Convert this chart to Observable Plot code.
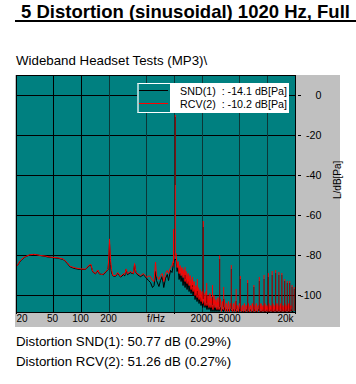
<!DOCTYPE html>
<html><head><meta charset="utf-8">
<script src="https://cdn.jsdelivr.net/npm/d3@7"></script>
<script src="https://cdn.jsdelivr.net/npm/@observablehq/plot@0.6"></script>
<style>
body{margin:0;background:#fff;font-family:"Liberation Sans",Arial,sans-serif;color:#000;}
#page{position:relative;width:356px;height:384px;overflow:hidden;}
#title{position:absolute;left:15px;top:1px;width:341px;height:19px;border-bottom:2px solid #000;font-weight:bold;font-size:18.5px;line-height:21px;white-space:nowrap;overflow:hidden;padding-left:6px;box-sizing:content-box;}
#subtitle{position:absolute;left:16px;top:53.4px;font-size:13.3px;line-height:16px;white-space:nowrap;}
#panel{position:absolute;left:15px;top:75px;width:325px;height:252px;background:#c0c0c0;}
#chart{position:absolute;left:0;top:74px;}
.foot{position:absolute;left:16px;font-size:13.3px;line-height:16px;white-space:nowrap;}
#legend{position:absolute;left:137px;top:83px;width:152px;height:30px;background:#fff;}
#sw{position:absolute;left:0;top:0;width:31px;height:28px;background:#008080;border:1px solid #fff;border-left:2px solid #9fd0d0;}
.swl{position:absolute;left:2px;width:29px;height:1px;}
.lt{position:absolute;right:2px;font-size:10.7px;line-height:13px;white-space:pre;}
</style></head>
<body><div id="page">
<div id="title"></div>
<div id="subtitle"></div>
<div id="panel"></div>
<div id="chart"></div>
<div id="legend"><div id="sw"></div></div>
<div class="foot" id="f1" style="top:334.4px"></div>
<div class="foot" id="f2" style="top:354.4px"></div>
</div>
<script>
const titleText = "5 Distortion (sinusoidal) 1020 Hz, Full";
const subtitleText = "Wideband Headset Tests (MP3)\\";
const footerLines = ["Distortion SND(1): 50.77 dB (0.29%)", "Distortion RCV(2): 51.26 dB (0.27%)"];
const seriesNames = ["SND(1)", "RCV(2)"];
const seriesLevels = ["-14.1 dB[Pa]", "-10.2 dB[Pa]"];
const seriesColors = ["#000000", "#ff0000"];

// Broadband spectrum (Hz, dB[Pa])
const freqs = [20,21,22,23.5,25,27.5,30.5,33,36,41,46,52,56,63,66,71,76,86,97,110,115,120,126,132,141,150,156,164,172,186,193,197,200,205,210,218,232,245,263,283,292,302,312,335,362,372,385,400,431,464,505,525,552,580,603,625,640,680,707,737,766,800,836,862,906,940,996,1040,
1066,1093,1120,1148,1177,1206,1236,1267,1299,1331,1365,1399,1434,1470,1506,1544,1583,1622,1663,1705,1747,1791,1836,1882,1929,1977,2010,2075,2127,2180,2235,2291,2348,2407,2467,2529,2592,2657,2723,2792,2862,2933,3007,3120,3198,3278,3360,3444,3530,3619,3709,3802,3897,3995,4190,4295,4402,4513,4625,4741,4860,4981,5233,5364,5498,5636,5777,5921,6070,6222,6377,6537,6700,6868,7040,7216,7397,7582,7771,7966,8300,8500,8720,8940,9160,9390,9620,9860,10110,10360,10620,10890,11160,11440,11730,12020,12320,12630,12950,13270,13600,13940,14290,14650,15020,15390,15780,16170,16580,16990,17420,17850,18300,18760,19230,19710,20000];
const sndLevel = [-85.5,-84.2,-82.8,-81.5,-80.6,-79.8,-79.5,-79.7,-80.0,-80.5,-80.9,-81.2,-81.4,-81.9,-82.6,-84.2,-85.8,-86.6,-87.0,-87.0,-86.2,-85.2,-84.7,-88.2,-89.2,-87.6,-89.2,-89.4,-89.6,-87.9,-86.9,-82.0,-74.0,-84.5,-88.5,-90.2,-90.4,-88.9,-90.8,-89.6,-90.2,-87.0,-89.6,-88.6,-89.2,-84.5,-88.6,-89.6,-90.6,-89.6,-91.6,-92.5,-93.5,-96.0,-95.0,-88.0,-92.5,-95.5,-92.5,-90.5,-96.0,-91.5,-89.5,-92.5,-87.5,-88.5,-82.0,-82.0,
-88,-86,-92,-89,-93,-90,-95,-91,-96,-92,-97,-93,-98,-95,-99,-96,-100,-97,-102,-99,-103,-100,-104,-101,-105,-102,-106,-103,-106,-104,-107,-104,-107,-105,-108,-105,-108,-105,-108,-106,-108,-106,-108,-106,-108,-107,-108,-106,-108,-107,-108,-107,-108,-107,-108,-107,-108,-107,-108,-108,-108,-107,-108,-108,-108,-108,-108,-107,-108,-108,-108,-107,-108,-108,-108,-107,-108,-108,-108,-107,-108,-108,-108,-107,-108,-108,-108,-107,-108,-108,-108,-107,-108,-108,-108,-107,-108,-108,-108,-107,-108,-108,-108,-107,-108,-108,-108,-107,-108,-108,-108,-107,-108,-108];
const rcvLevel = [-85.5,-84.0,-82.5,-81.3,-80.5,-79.7,-79.4,-79.6,-80.0,-80.3,-80.8,-81.0,-81.2,-81.7,-82.4,-83.8,-85.5,-86.2,-86.7,-86.8,-86.0,-84.9,-84.4,-88.0,-89.0,-87.3,-89.0,-89.5,-89.2,-87.7,-86.7,-80.0,-71.7,-82.0,-87.0,-90.0,-90.0,-88.5,-90.5,-89.0,-89.6,-86.7,-89.0,-88.0,-89.0,-84.0,-88.5,-89.0,-90.0,-89.0,-91.0,-90.2,-90.5,-92.5,-93.0,-83.3,-90.0,-92.0,-90.0,-89.0,-93.0,-89.0,-87.5,-89.0,-86.0,-85.0,-81.0,-79.0,
-86,-83,-89,-85,-90,-86,-91,-87,-93,-88,-94,-89,-95,-90,-97,-92,-98,-93,-100,-95,-101,-96,-102,-97,-103,-98,-104,-99,-105,-98,-105,-100,-106,-99,-106,-101,-107,-100,-106,-102,-107,-101,-107,-102,-108,-103,-107,-102,-108,-104,-108,-103,-108,-104,-108,-104,-108,-103,-108,-105,-108,-104,-108,-105,-108,-104,-108,-105,-108,-104,-108,-105,-108,-104,-108,-105,-108,-104,-108,-105,-108,-104,-108,-105,-108,-104,-108,-105,-108,-104,-108,-105,-108,-104,-108,-105,-108,-104,-108,-105,-108,-104,-108,-105,-108,-104,-108,-105,-108,-104,-108,-105,-106];

// Tonal lines: fundamental, harmonics and other discrete components
const spikeFreq = [975,1020,1300,1560,1760,2040,2220,2560,3060,3380,4080,4600,5100,6120,7140,8160,9180,10200,11220,12240,13260,14280,15300,16320,17340,18360,19380];
const spikeBase = [-86,-80,-92,-96,-100,-102,-104,-105,-106,-106,-107,-107,-108,-108,-108,-108,-108,-108,-108,-108,-108,-108,-108,-108,-108,-108,-108];
const rcvPeak = [-67,-10,-86,-91,-92,-63,-94,-95,-80.3,-96,-85,-97,-90.5,-92.5,-95,-91,-90,-89,-88,-87.5,-88.5,-89,-92,-93,-93,-95,-96];
const sndBase = [-86,-45,-92,-96,-100,-102,-104,-105,-106,-106,-107,-107,-108,-108,-108,-108,-108,-108,-108,-108,-108,-108,-108,-108,-108,-108,-108];
const sndPeak = [-84,-11,-90,-95,-98,-66,-100,-101,-82,-102,-87,-103,-92,-94,-96,-93,-92,-91,-90,-89,-90,-90,-93,-94,-94,-96,-97];

const yTicks = [0, -20, -40, -60, -80, -100];
const yLabel = "L/dB[Pa]";
const xGridMajor = [50, 100];
const xGridMinor = [200, 500, 1000, 2000, 5000, 10000];
const xTickMarks = [20, 1000, 10000, 20000];
const xLabelText = {20: "20", 50: "50", 100: "100", 200: "200", 2000: "2000", 5000: "5000", 20000: "20k"};
const xLabelsStart = [20];
const xLabelsMid = [50, 100, 200, 2000];
const xLabelsEnd = [5000];
const xLabelsLast = [20000];
const xLabel = "f/Hz";

document.getElementById("title").textContent = titleText;
document.getElementById("subtitle").textContent = subtitleText;
document.getElementById("f1").textContent = footerLines[0];
document.getElementById("f2").textContent = footerLines[1];

const legend = document.getElementById("legend");
seriesNames.forEach((n, i) => {
  const l = document.createElement("div");
  l.className = "swl";
  l.style.top = (i === 0 ? 7 : 20) + "px";
  l.style.background = seriesColors[i];
  legend.appendChild(l);
  const t = document.createElement("div");
  t.className = "lt";
  t.style.top = (i === 0 ? 1.6 : 14.6) + "px";
  t.textContent = n + "  : " + seriesLevels[i];
  legend.appendChild(t);
});

const table = freqs.map((f, i) => ({f, snd: sndLevel[i], rcv: rcvLevel[i]}));
const spikes = spikeFreq.map((f, i) => ({f, base: spikeBase[i], rcv: rcvPeak[i], sndBase: sndBase[i], snd: sndPeak[i]}));
const fmt = d => xLabelText[d];
const lab = {frameAnchor: "bottom", lineAnchor: "top", dy: 2, fontSize: 10};

const chart = Plot.plot({
  width: 356, height: 253,
  marginTop: 1, marginBottom: 15, marginLeft: 16, marginRight: 61,
  style: {background: "transparent", fontFamily: "Liberation Sans, Arial, sans-serif", fontSize: "10.7px", color: "black", overflow: "visible"},
  x: {type: "log", domain: [20, 20000], axis: null},
  y: {domain: [-108.5, 10], axis: null},
  marks: [
    Plot.frame({fill: "#008080", stroke: null}),
    Plot.ruleY(yTicks, {stroke: "#000"}),
    Plot.ruleX(xGridMajor, {stroke: "#000"}),
    Plot.ruleX(xGridMinor, {stroke: "#0c3636"}),
    Plot.line(table, {x: "f", y: "snd", stroke: seriesColors[0], strokeWidth: 1, clip: true}),
    Plot.line(table, {x: "f", y: "rcv", stroke: seriesColors[1], strokeWidth: 1, clip: true}),
    Plot.ruleX(spikes, {x: "f", y1: "base", y2: "rcv", stroke: seriesColors[1], clip: true}),
    Plot.ruleX(spikes, {x: "f", y1: "sndBase", y2: "snd", stroke: seriesColors[0], strokeOpacity: 0.45, clip: true}),
    Plot.frame({stroke: "#000"}),
    Plot.axisY(yTicks, {anchor: "right", tickSize: 3, dx: 2, tickPadding: 21, textAnchor: "end", tickFormat: d => String(d), label: null}),
    Plot.text([yLabel], {frameAnchor: "right", dx: 42, dy: 5, rotate: -90, textAnchor: "start", fontSize: 10}),
    Plot.axisX(xTickMarks, {anchor: "bottom", tickSize: 2, tickFormat: () => "", label: null}),
    Plot.text(xLabelsStart, {x: d => d, text: fmt, textAnchor: "start", ...lab}),
    Plot.text(xLabelsMid, {x: d => d, text: fmt, textAnchor: "middle", ...lab, dx: -1}),
    Plot.text(xLabelsEnd, {x: d => d, text: fmt, textAnchor: "end", ...lab, dx: 1}),
    Plot.text(xLabelsLast, {x: d => d, text: fmt, textAnchor: "end", ...lab, dx: -2}),
    Plot.text([xLabel], {...lab})
  ]
});
document.getElementById("chart").appendChild(chart);
</script>
</body></html>
